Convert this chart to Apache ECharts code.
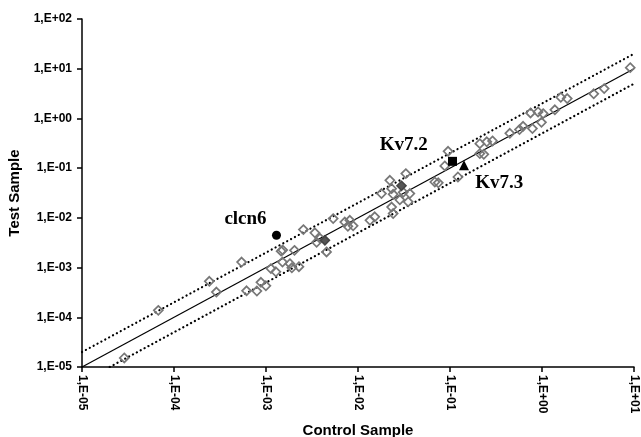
<!DOCTYPE html>
<html>
<head>
<meta charset="utf-8">
<script src="https://cdn.jsdelivr.net/npm/echarts@6/dist/echarts.min.js"></script>
<style>html,body{margin:0;padding:0;background:#fff;}#c{width:641px;height:437px;}</style>
</head>
<body>
<div id="c"></div>
<script>
// Control sample (x) and test sample (y) values for the hollow diamonds
const controlX = [2.88e-5,6.75e-5,2.42e-4,2.89e-4,5.43e-4,6.15e-4,7.96e-4,8.81e-4,9.97e-4,1.13e-3,
  1.28e-3,1.46e-3,1.52e-3,1.51e-3,1.82e-3,2.04e-3,1.91e-3,2.28e-3,2.55e-3,3.40e-3,
  3.55e-3,3.86e-3,4.55e-3,5.37e-3,7.19e-3,8.15e-3,8.85e-3,7.76e-3,1.35e-2,1.52e-2,
  1.80e-2,2.22e-2,2.32e-2,2.41e-2,3.10e-2,3.66e-2,2.85e-2,3.51e-2,2.32e-2,2.41e-2,
  3.31e-2,6.84e-2,7.46e-2,8.77e-2,9.53e-2,0.122,0.211,0.251,0.211,0.233,
  0.290,0.447,0.569,0.623,0.787,0.750,0.906,1.03,0.987,1.38,
  1.60,1.88,3.65,4.74,9.10];
const testY = [1.52e-5,1.38e-4,5.29e-4,3.22e-4,1.29e-3,3.41e-4,3.37e-4,5.05e-4,4.30e-4,9.53e-4,
  8.22e-4,2.14e-3,2.25e-3,1.29e-3,1.20e-3,2.22e-3,9.9e-4,1.04e-3,5.80e-3,5.00e-3,
  3.22e-3,3.87e-3,2.06e-3,9.66e-3,8.24e-3,8.93e-3,6.92e-3,6.76e-3,8.93e-3,1.05e-2,
  3.08e-2,5.69e-2,3.87e-2,2.98e-2,3.27e-2,3.08e-2,2.31e-2,2.10e-2,1.65e-2,1.22e-2,
  7.76e-2,5.26e-2,5.07e-2,0.111,0.218,6.64e-2,0.311,0.339,0.196,0.190,
  0.352,0.502,0.596,0.695,0.624,1.29,1.35,1.25,0.836,1.49,
  2.66,2.51,3.13,3.98,10.5];
// darker filled diamonds
const darkX = [4.37e-3, 2.97e-2];
const darkY = [3.53e-3, 4.42e-2];
// highlighted genes
const geneNames = ['clcn6','Kv7.2','Kv7.3'];
const geneX = [1.30e-3, 0.1064, 0.142];
const geneY = [4.46e-3, 0.137, 0.114];
// reference lines: y = x, y = 2x, y = x/2
const identityLine = [[1e-5,1e-5],[10,10]];
const upperLine = [[1e-5,2e-5],[10,20]];
const lowerLine = [[2e-5,1e-5],[10,5]];
// axis ranges
const xMin = 1e-5, xMax = 10, yMin = 1e-5, yMax = 100;

function fmt(v){
  const e = Math.round(Math.log10(v));
  return '1,E' + (e < 0 ? '-' : '+') + String(Math.abs(e)).padStart(2,'0');
}
const pts = controlX.map((x,i)=>[x,testY[i]]);
const dark = darkX.map((x,i)=>[x,darkY[i]]);

const labelFont = {fontFamily:'Liberation Serif', fontSize:19, fontWeight:'bold', color:'#000'};
function gene(i, symbol, size, offset){
  return {
    type:'scatter', symbol:symbol, symbolSize:size, z:5,
    itemStyle:{color:'#000', opacity:1},
    data:[{name:geneNames[i], value:[geneX[i], geneY[i]]}],
    label:Object.assign({show:true, position:'inside', offset:offset, formatter:'{b}', align:'center', verticalAlign:'middle'}, labelFont)
  };
}

const chart = echarts.init(document.getElementById('c'), null, {renderer:'canvas'});
const axisCommon = {
  type:'log', logBase:10,
  axisLine:{show:true, lineStyle:{color:'#000', width:1.5}},
  axisTick:{show:true, length:5, lineStyle:{color:'#000', width:1.5}},
  splitLine:{show:false}, minorTick:{show:false},
  nameLocation:'middle',
  nameTextStyle:{fontFamily:'Liberation Sans', fontWeight:'bold', fontSize:15, color:'#000'}
};
chart.setOption({
  animation:false,
  backgroundColor:'#fff',
  grid:{left:82, right:7, top:19, bottom:70, containLabel:false, outerBoundsMode:'none'},
  xAxis:Object.assign({}, axisCommon, {
    min:xMin, max:xMax, name:'Control Sample', nameGap:56,
    axisLabel:{rotate:-90, margin:8, formatter:fmt, fontFamily:'Liberation Sans', fontWeight:'bold', fontSize:12, color:'#000'}
  }),
  yAxis:Object.assign({}, axisCommon, {
    min:yMin, max:yMax, name:'Test Sample', nameGap:52,
    axisLabel:{margin:10, formatter:fmt, fontFamily:'Liberation Sans', fontWeight:'bold', fontSize:12, color:'#000'}
  }),
  series:[
    {type:'line', data:identityLine, symbol:'none', lineStyle:{color:'#000', width:1.2}, z:1},
    {type:'line', data:upperLine, symbol:'none', lineStyle:{color:'#000', width:2.2, type:[0.1,4.3], cap:'round'}, z:1},
    {type:'line', data:lowerLine, symbol:'none', lineStyle:{color:'#000', width:2.2, type:[0.1,4.3], cap:'round'}, z:1},
    {type:'scatter', data:pts, symbol:'diamond', symbolSize:[9,9], z:3,
      itemStyle:{color:'rgba(255,255,255,0)', borderColor:'#777', borderWidth:1.7, opacity:1}},
    {type:'scatter', data:dark, symbol:'diamond', symbolSize:[9,9], z:3,
      itemStyle:{color:'#555', borderColor:'#444', borderWidth:1.6, opacity:1}},
    gene(0, 'circle', 9, [-31,-16.5]),
    gene(1, 'rect', 9, [-48.7,-16]),
    gene(2, 'triangle', 10, [35.2,18])
  ]
});
</script>
</body>
</html>
